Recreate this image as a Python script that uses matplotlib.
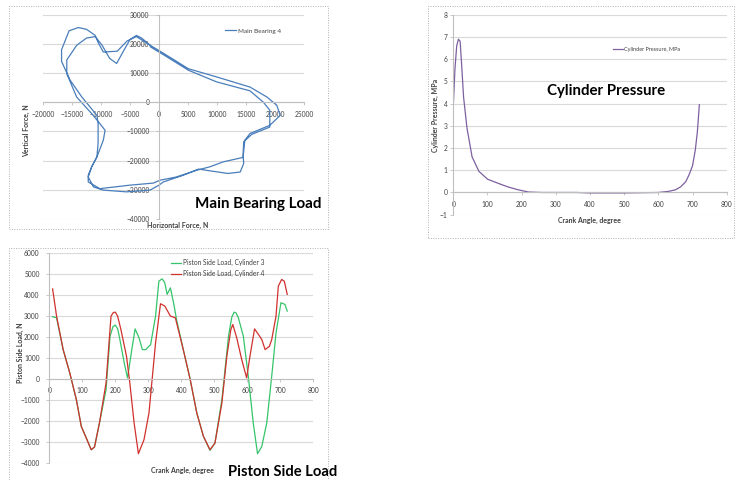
import matplotlib.pyplot as plt
import numpy as np
from matplotlib.patches import Rectangle

plt.rcParams['font.family'] = ['Lato', 'DejaVu Sans']

W, H = 735, 480

# main bearing 4 load (two crank revolutions), N
bearing_x = [-1500, -3000, -3900, -5000, -6000, -7300, -8500, -9800, -11000, -12500, -14200, -15900,
             -15900, -14200, -11600, -10200, -9300, -9600, -10700, -11600, -12200, -12200, -10200,
             -5000, -1000, 200, 3000, 6500, 8800, 11100, 14500, 14800, 15700, 19100, 20900, 20300,
             18600, 15700, 9900, 5050, 1000,
             -1500, -3900, -5500, -7200, -9600, -10500, -11000, -12500, -13900, -15500, -16800, -16800,
             -15300, -13300, -10700, -10500, -10500, -10700, -11600, -12200, -11300, -9600, -5600,
             -1550, 0, 750, 4200, 6800, 8800, 11900, 14000, 14600, 14500, 14600, 16000, 19100, 19100,
             18000, 15700, 9900, 5050, 1000, -1500]
bearing_y = [19500, 22000, 22900, 21500, 18000, 13300, 15000, 19500, 22500, 22000, 19500, 14500,
             9800, 1800, -3900, -7300, -9600, -13000, -18700, -22100, -25000, -27300, -29600,
             -28400, -27700, -26700, -25600, -23300, -22100, -20400, -18900, -13000, -10700, -7900,
             -4500, -1000, 1800, 5200, 8700, 11500, 16500,
             19500, 22500, 21000, 17500, 17200, 20500, 22900, 25000, 25600, 24500, 18000, 14000,
             7500, 1800, -4500, -7300, -14100, -18700, -22100, -25600, -29000, -30100, -30700,
             -30100, -28400, -27300, -25000, -22900, -23500, -24400, -23900, -21000, -18000, -13500,
             -11000, -8500, -2700, 0, 3900, 7000, 11000, 16000, 19000]

# cylinder pressure, MPa
p_angle = [0, 5, 10, 15, 20, 25, 30, 40, 55, 75, 100, 130, 160, 190, 220, 260, 360, 400, 500,
           600, 630, 650, 665, 680, 690, 700, 708, 714, 720]
p_val = [3.9, 5.6, 6.6, 6.9, 6.8, 5.6, 4.3, 2.9, 1.6, 0.95, 0.6, 0.42, 0.25, 0.12, 0.02, 0.0,
         0.0, -0.02, -0.02, 0.0, 0.05, 0.12, 0.25, 0.48, 0.8, 1.2, 1.9, 2.7, 3.95]

# piston side load, N
cyl3_angle = [10, 22, 42, 62, 82, 97, 112, 127, 137, 152, 172, 184, 193, 200, 207, 212, 227, 237,
              250, 260, 272, 282, 292, 307, 322, 332, 342, 350, 357, 367, 377, 386, 406, 427, 447,
              467, 487, 502, 523, 543, 553, 560, 566, 573, 588, 603, 618, 631, 644, 659, 674, 687,
              702, 714, 721]
cyl3_load = [2970, 2920, 1400, 290, -990, -2270, -2820, -3380, -3250, -2100, -510, 2040, 2500,
             2570, 2400, 2040, 770, 50, 1400, 2390, 1960, 1400, 1400, 1640, 3000, 4670, 4780, 4590,
             4040, 4350, 3600, 2800, 1400, -30, -1630, -2740, -3410, -3060, -990, 2040, 2950, 3190,
             3150, 2920, 2040, 130, -2100, -3570, -3220, -2100, 130, 2200, 3640, 3560, 3240]
cyl4_angle = [10, 22, 42, 62, 82, 97, 112, 127, 137, 152, 172, 187, 194, 200, 207, 217, 234, 244,
              257, 270, 287, 302, 322, 337, 350, 367, 382, 406, 427, 447, 467, 487, 502, 523, 538,
              550, 556, 568, 583, 598, 608, 622, 634, 644, 654, 667, 674, 687, 694, 704, 712, 721]
cyl4_load = [4300, 3000, 1400, 290, -990, -2270, -2820, -3380, -3250, -2100, -190, 3000, 3170,
             3190, 3000, 2360, 1080, -190, -2100, -3570, -2900, -1630, 1720, 3590, 3480, 3000, 2920,
             1400, -30, -1630, -2740, -3380, -3060, -1150, 1080, 2350, 2600, 1960, 930, 50, 1080,
             2390, 2120, 1880, 1400, 1560, 1880, 3000, 4430, 4750, 4670, 4040]

GRID = '#d9d9d9'
TXT = '#404040'


def px_axes(fig, x0, y0, x1, y1):
    # pixel box (top-left origin) -> axes
    return fig.add_axes([x0 / W, 1 - y1 / H, (x1 - x0) / W, (y1 - y0) / H])


def style(ax, xlim, ylim, xstep, ystep, ypad):
    ax.set_xlim(xlim)
    ax.set_ylim(ylim)
    ax.set_xticks(np.arange(xlim[0], xlim[1] + 1, xstep))
    ax.set_yticks(np.arange(ylim[0], ylim[1] + 1, ystep))
    ax.grid(axis='y', color=GRID, lw=0.8)
    ax.set_axisbelow(True)
    for s in ['top', 'right']:
        ax.spines[s].set_visible(False)
    ax.spines['bottom'].set_position(('data', 0))
    ax.spines['left'].set_position(('data', 0))
    for s in ['bottom', 'left']:
        ax.spines[s].set_color('#bfbfbf')
        ax.spines[s].set_linewidth(0.8)
    ax.tick_params(axis='x', length=2, width=0.6, color='#bfbfbf', labelsize=4.8,
                   labelcolor=TXT, pad=4)
    ax.tick_params(axis='y', length=2, width=0.6, color='#bfbfbf', labelsize=4.8,
                   labelcolor=TXT, pad=ypad)
    ax.patch.set_alpha(0)


def ftext(fig, x, y, s, **kw):
    fig.text(x / W, 1 - y / H, s, **kw)


def frame(fig, x0, y0, x1, y1):
    fig.patches.append(Rectangle((x0 / W, 1 - y1 / H), (x1 - x0) / W, (y1 - y0) / H,
                                 transform=fig.transFigure, fill=False, ec='#b0b0b0',
                                 lw=0.7, ls=(0, (1, 1.5))))


fig = plt.figure(figsize=(W / 100, H / 100), dpi=100)
fig.patch.set_facecolor('white')

frame(fig, 9, 6, 328, 229)
frame(fig, 428, 6, 734, 238)
frame(fig, 9, 248, 328, 481)

# main bearing load
ax1 = px_axes(fig, 43, 14.7, 304, 219)
ax1.plot(bearing_x, bearing_y, color='#4a7ebb', lw=0.9, label='Main Bearing 4')
style(ax1, (-20000, 25000), (-40000, 30000), 5000, 10000, 5)
ax1.legend(loc='upper left', bbox_to_anchor=(222 / W, 1 - 25 / H), bbox_transform=fig.transFigure,
           frameon=False, fontsize=4.6, handlelength=1.7, handletextpad=0.3, borderpad=0,
           labelcolor=TXT)
ftext(fig, 26, 131, 'Vertical Force, N', rotation=90, fontsize=5, fontweight='bold',
      color=TXT, ha='center', va='center')
ftext(fig, 178, 225.5, 'Horizontal Force, N', fontsize=5, fontweight='bold', color=TXT,
      ha='center', va='center')
ftext(fig, 195, 204, 'Main Bearing Load', fontsize=10.9, fontweight='bold', color='black',
      ha='left', va='center')

# cylinder pressure
ax2 = px_axes(fig, 453.3, 14.7, 726.7, 214.7)
ax2.plot(p_angle, p_val, color='#7d60a0', lw=0.9, label='Cylinder Pressure, MPa')
style(ax2, (0, 800), (-1, 8), 100, 1, 2)
ax2.legend(loc='upper left', bbox_to_anchor=(610 / W, 1 - 44 / H), bbox_transform=fig.transFigure,
           frameon=False, fontsize=4, handlelength=1.9, handletextpad=0.2, borderpad=0,
           labelcolor=TXT)
ftext(fig, 435, 115, 'Cylinder Pressure, MPa', rotation=90, fontsize=5, fontweight='bold',
      color=TXT, ha='center', va='center')
ftext(fig, 589, 220, 'Crank Angle, degree', fontsize=5, fontweight='bold', color=TXT,
      ha='center', va='center')
ftext(fig, 546.7, 91, 'Cylinder Pressure', fontsize=10.8, fontweight='bold', color='black',
      ha='left', va='center')

# piston side load
ax3 = px_axes(fig, 49.3, 253.3, 313.3, 462.7)
ax3.plot(cyl3_angle, cyl3_load, color='#35c46a', lw=0.9, label='Piston Side Load, Cylinder 3')
ax3.plot(cyl4_angle, cyl4_load, color='#d0312d', lw=0.9, label='Piston Side Load, Cylinder 4')
style(ax3, (0, 800), (-4000, 6000), 100, 1000, 5)
ax3.legend(loc='upper left', bbox_to_anchor=(168 / W, 1 - 256 / H), bbox_transform=fig.transFigure,
           frameon=False, fontsize=4.8, handlelength=1.4, handletextpad=0.3, borderpad=0,
           labelspacing=0.6, labelcolor=TXT)
ftext(fig, 20.7, 353, 'Piston Side Load, N', rotation=90, fontsize=5, fontweight='bold',
      color=TXT, ha='center', va='center')
ftext(fig, 182, 470, 'Crank Angle, degree', fontsize=5, fontweight='bold', color=TXT,
      ha='center', va='center')
ftext(fig, 228, 471.5, 'Piston Side Load', fontsize=10.6, fontweight='bold', color='black',
      ha='left', va='center')

fig.savefig('out.png', dpi=100)
